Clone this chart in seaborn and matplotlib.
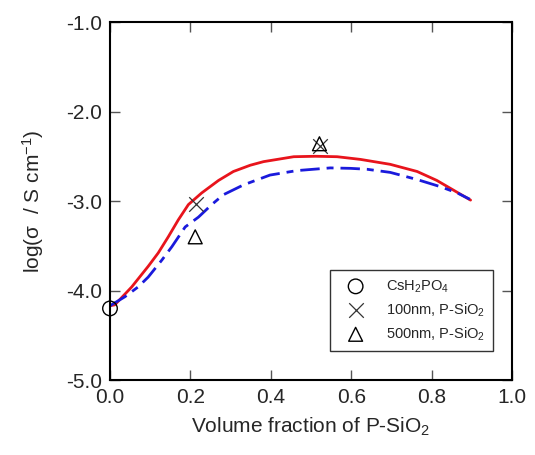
import matplotlib
matplotlib.use('Agg')
import matplotlib.pyplot as plt
import seaborn as sns
import numpy as np

# fitted curves
red_x = [0.0, 0.012, 0.054, 0.095, 0.120, 0.145, 0.170, 0.195, 0.228, 0.270,
         0.307, 0.349, 0.382, 0.457, 0.511, 0.565, 0.623, 0.697, 0.764, 0.813,
         0.855, 0.897]
red_y = [-4.17, -4.16, -3.96, -3.73, -3.58, -3.40, -3.21, -3.04, -2.91, -2.77,
         -2.67, -2.60, -2.56, -2.505, -2.50, -2.505, -2.535, -2.59, -2.67, -2.77,
         -2.88, -2.99]

blue_x = [0.0, 0.037, 0.070, 0.095, 0.129, 0.154, 0.187, 0.220, 0.253, 0.282,
          0.332, 0.398, 0.465, 0.548, 0.598, 0.639, 0.697, 0.764, 0.822, 0.864,
          0.895]
blue_y = [-4.17, -4.07, -3.96, -3.85, -3.66, -3.51, -3.29, -3.18, -3.04, -2.93,
          -2.82, -2.71, -2.66, -2.63, -2.635, -2.645, -2.68, -2.76, -2.84, -2.91,
          -2.98]

# measured points
cs_x, cs_y = [0.0], [-4.2]
nm100_x, nm100_y = [0.213, 0.522], [-3.03, -2.38]
nm500_x, nm500_y = [0.212, 0.521], [-3.40, -2.36]

sns.set_theme(style="ticks")
plt.rcParams['font.family'] = ['Liberation Sans', 'DejaVu Sans']
plt.rcParams['mathtext.fontset'] = 'custom'
plt.rcParams['mathtext.rm'] = 'Liberation Sans'
plt.rcParams['mathtext.it'] = 'Liberation Sans:italic'

fig = plt.figure(figsize=(5.35, 4.55), dpi=100)
ax = fig.add_axes([0.2056, 0.1648, 0.7514, 0.7868])

sns.lineplot(x=red_x, y=red_y, color='#e8141c', lw=2.0, sort=False, ax=ax)
sns.lineplot(x=blue_x, y=blue_y, color='#1a1adc', lw=2.0, sort=False, ax=ax,
             linestyle=(0, (7, 2.5, 2.5, 2.5)))

sns.scatterplot(x=cs_x, y=cs_y, marker='o', s=110, facecolor='none',
                edgecolor='black', linewidth=1.0, ax=ax, zorder=5,
                clip_on=False, label=r'CsH$_2$PO$_4$')
sns.scatterplot(x=nm100_x, y=nm100_y, marker='x', s=110, color='#333333',
                linewidth=0.9, ax=ax, zorder=5, label=r'100nm, P-SiO$_2$')
sns.scatterplot(x=nm500_x, y=nm500_y, marker='^', s=100, facecolor='none',
                edgecolor='black', linewidth=1.0, ax=ax, zorder=5,
                label=r'500nm, P-SiO$_2$')

ax.set_xlim(0, 1.0)
ax.set_ylim(-5.0, -1.0)
ax.set_xticks(np.arange(0, 1.01, 0.2))
ax.set_yticks(np.arange(-5.0, -0.99, 1.0))
ax.set_xticklabels([f'{v:.1f}' for v in np.arange(0, 1.01, 0.2)])
ax.set_yticklabels([f'{v:.1f}' for v in np.arange(-5.0, -0.99, 1.0)])
ax.tick_params(direction='in', length=7, width=1, color='#555555',
               top=True, right=True, labelsize=15, pad=6)
for sp in ax.spines.values():
    sp.set_visible(True)
    sp.set_color('black')
    sp.set_linewidth(1.5)

ax.set_xlabel(r'Volume fraction of P-SiO$_2$', fontsize=15, labelpad=6)
ax.set_ylabel(r'log(σ  / S cm$^{-1}$)', fontsize=15, labelpad=14)

leg = ax.legend(loc='lower right', bbox_to_anchor=(0.972, 0.062),
                fontsize=10.5, frameon=True, fancybox=False, edgecolor='#333333',
                framealpha=1, handletextpad=0.9, borderpad=0.55,
                labelspacing=0.45, handlelength=2.4)
leg.get_frame().set_linewidth(1.0)

fig.savefig('out.png', dpi=100)
